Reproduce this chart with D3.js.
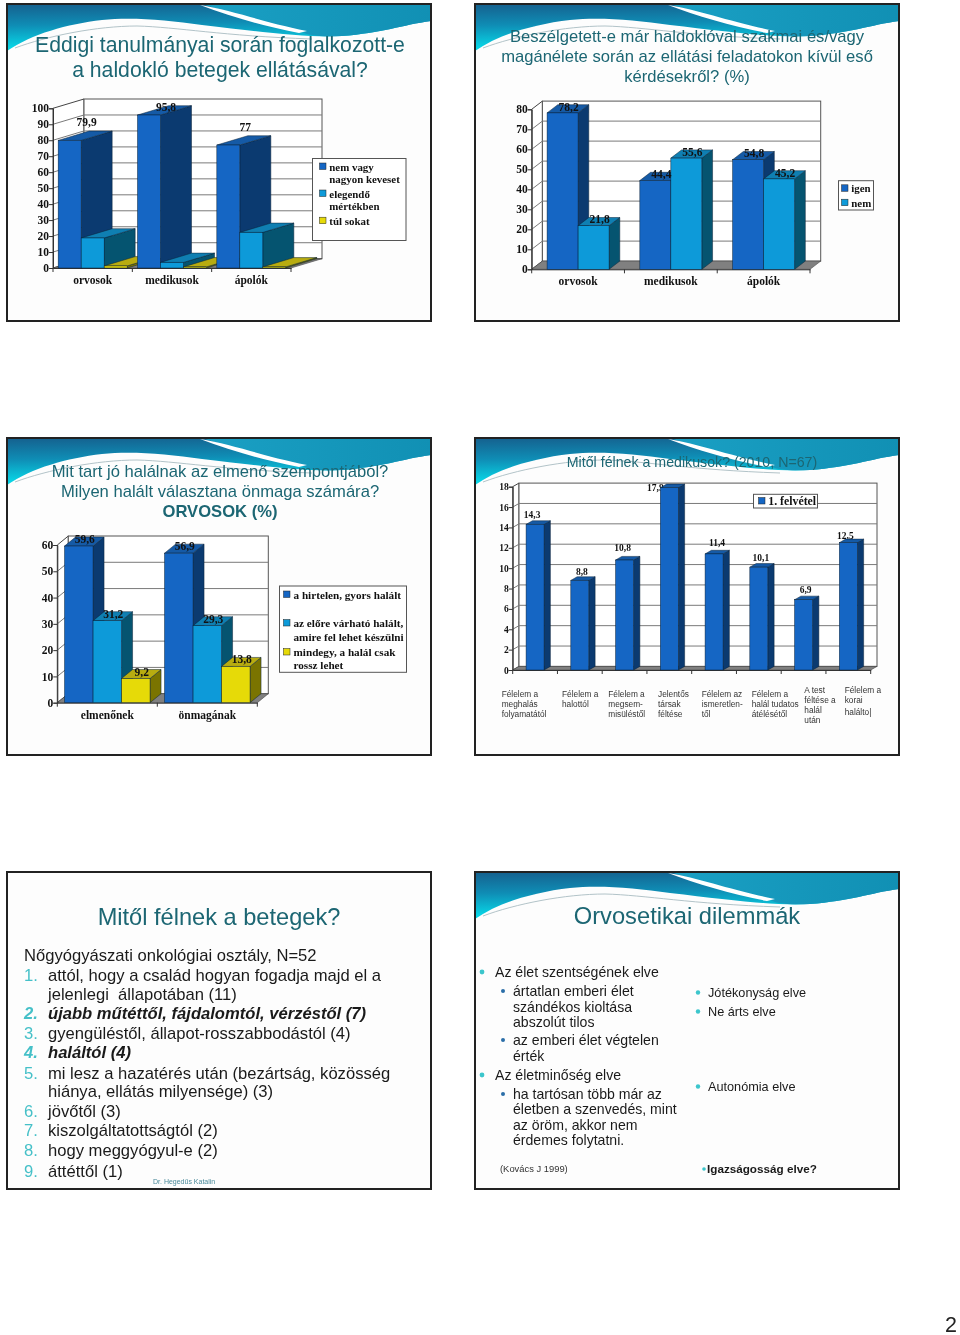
<!DOCTYPE html>
<html><head><meta charset="utf-8">
<script src="https://cdn.jsdelivr.net/npm/d3@7"></script>
<style>
html,body{margin:0;padding:0;background:#fff}
svg{display:block;filter:blur(0.35px)}
.serif{font-family:"Liberation Serif",serif;font-weight:700;fill:#111}
.sans{font-family:"Liberation Sans",Arial,sans-serif}
.title{fill:#1c6673;text-anchor:middle}
.body{fill:#1a1a1a}
.axis .domain{stroke:#333;stroke-width:1}
.axis line{stroke:#333;stroke-width:1}
.axis text{font-family:"Liberation Serif",serif;font-weight:700;fill:#111}
</style></head><body>
<script>
// ---------- data ----------
const cats1 = ["orvosok","medikusok","ápolók"];
const legend1 = [["nem vagy","nagyon keveset"],["elegendő","mértékben"],["túl sokat"]];
const nemVagy1 = [79.9,95.8,77];
const elegendo1 = [18.8,3.5,22.3];
const tulSokat1 = [1.3,0.7,0.7];
const labels1 = ["79,9","95,8","77"];

const cats2 = ["orvosok","medikusok","ápolók"];
const legend2 = [["igen"],["nem"]];
const igen2 = [78.2,44.4,54.8];
const nem2 = [21.8,55.6,45.2];

const cats3 = ["elmenőnek","önmagának"];
const legend3 = [["a hirtelen, gyors halált"],["az előre várható halált,","amire fel lehet készülni"],["mindegy, a halál csak","rossz lehet"]];
const hirtelen3 = [59.6,56.9];
const eloreVarhato3 = [31.2,29.3];
const mindegy3 = [9.2,13.8];

const cats4 = ["meghalás","halott","megsemmisülés","társak","ismeretlen","tudatos","test","korai"];
const catLines4 = [["Félelem a","meghalás","folyamatától"],["Félelem a","halottól"],["Félelem a","megsem-","misüléstől"],["Jelentős","társak","féltése"],["Félelem az","ismeretlen-","től"],["Félelem a","halál tudatos","átélésétől"],["A test","féltése a","halál","után"],["Félelem a","korai","halálto|"]];
const legend4 = [["1. felvétel"]];
const felvetel4 = [14.3,8.8,10.8,17.9,11.4,10.1,6.9,12.5];

const ticks1 = [0,10,20,30,40,50,60,70,80,90,100];
const ticks2 = [0,10,20,30,40,50,60,70,80];
const ticks3 = [0,10,20,30,40,50,60];
const ticks4 = [0,2,4,6,8,10,12,14,16,18];

const titles1 = ["Eddigi tanulmányai során foglalkozott-e","a haldokló betegek ellátásával?"];
const titles2 = ["Beszélgetett-e már haldoklóval szakmai és/vagy","magánélete során az ellátási feladatokon kívül eső","kérdésekről? (%)"];
const titles3 = ["Mit tart jó halálnak az elmenő szempontjából?","Milyen halált választana önmaga számára?","ORVOSOK (%)"];
const title4 = "Mitől félnek a medikusok? (2010, N=67)";
const title5 = "Mitől félnek a betegek?";
const title6 = "Orvosetikai dilemmák";

const intro5 = "Nőgyógyászati onkológiai osztály, N=52";
const list5 = [
 ["1.",["attól, hogy a család hogyan fogadja majd el a","jelenlegi  állapotában (11)"],false],
 ["2.",["újabb műtéttől, fájdalomtól, vérzéstől (7)"],true],
 ["3.",["gyengüléstől, állapot-rosszabbodástól (4)"],false],
 ["4.",["haláltól (4)"],true],
 ["5.",["mi lesz a hazatérés után (bezártság, közösség","hiánya, ellátás milyensége) (3)"],false],
 ["6.",["jövőtől (3)"],false],
 ["7.",["kiszolgáltatottságtól (2)"],false],
 ["8.",["hogy meggyógyul-e (2)"],false],
 ["9.",["áttéttől (1)"],false]];
const left6 = [
 [0,["Az élet szentségének elve"]],
 [1,["ártatlan emberi élet","szándékos kioltása","abszolút tilos"]],
 [1,["az emberi élet végtelen","érték"]],
 [0,["Az életminőség elve"]],
 [1,["ha tartósan több már az","életben a szenvedés, mint","az öröm, akkor nem","érdemes folytatni."]]];
const right6 = ["Jótékonyság elve","Ne árts elve","Autonómia elve"];

// ---------- page ----------
const svg = d3.select("body").append("svg").attr("width",960).attr("height",1335);
const defs = svg.append("defs");
const g1 = defs.append("linearGradient").attr("id","wave").attr("x1",0).attr("y1",0).attr("x2",0.12).attr("y2",1);
g1.append("stop").attr("offset",0).attr("stop-color","#15608e");
g1.append("stop").attr("offset",0.45).attr("stop-color","#0f8db5");
g1.append("stop").attr("offset",1).attr("stop-color","#06e2ee");
const g2 = defs.append("linearGradient").attr("id","waveR").attr("x1",0).attr("y1",0).attr("x2",1).attr("y2",0);
g2.append("stop").attr("offset",0).attr("stop-color","#1aa0c4");
g2.append("stop").attr("offset",1).attr("stop-color","#1190b4");

const frames = [[7,4,true],[475,4,true],[7,438,true],[475,438,true],[7,872,false],[475,872,true]];
frames.forEach(([fx,fy,wave],i)=>{
  const g = svg.append("g").attr("transform",`translate(${fx},${fy})`);
  g.append("rect").attr("width",424).attr("height",317).attr("fill","#fdfdfd");
  if(wave){
    g.append("path").attr("fill","url(#wave)")
      .attr("d","M0,0H424V17C395,21 375,29 335,32C300,34 255,28 195,21C160,16 125,13 95,16C60,20 25,30 0,47Z");
    g.append("path").attr("fill","url(#waveR)")
      .attr("d","M195,0H424V17C395,21 375,29 335,32C310,33 300,31 296,28C260,20 225,10 195,0Z");
    g.append("path").attr("fill","#fff")
      .attr("d","M193,1C225,6 255,18 300,27L292,29C255,22 222,12 193,1Z");
    g.append("path").attr("fill","none").attr("stroke","#a9bcc2").attr("stroke-width",0.9)
      .attr("d","M8,44C40,32 90,22 130,22C170,23 215,32 305,35");
  }
  g.append("rect").attr("width",424).attr("height",317).attr("fill","none").attr("stroke","#222").attr("stroke-width",2);
});

function title(lines,cx,ys,size,bold){
  lines.forEach((t,i)=>svg.append("text").attr("class","sans title").attr("x",cx).attr("y",ys[i])
    .attr("font-size",size).attr("font-weight",(bold&&bold[i])?700:400).text(t));
}
title(titles1,220,[52,77],21.2);
title(titles2,687,[42,62,82],16.6);
title(titles3,220,[477,497,517],16.6,[0,0,1]);
title([title4],692,[467],14.2);
title([title5],219,[925],23.6);
title([title6],687,[924],23.7);

const pal = [
 {front:"#1566c4",side:"#0b3a70",top:"#155aa6"},
 {front:"#0d9ad9",side:"#055470",top:"#0f7fb2"},
 {front:"#e6da08",side:"#7a7400",top:"#b8ac10"}];

function chart(o){
  const g = svg.append("g");
  const y = d3.scaleLinear().domain([0,o.yMax]).range([o.y0,o.yTop]);
  const x = d3.scaleBand().domain(o.cats).range([o.x0,o.x1]);
  const n = o.series.length, step = x.step();
  const sub = d3.scaleBand().domain(d3.range(n)).range([0,step]).paddingInner(0).paddingOuter((step/o.barW-n)/2);
  const {dx,dy} = o;
  const poly = pts => pts.map(p=>p.join(",")).join(" ");
  // walls and floor
  g.append("polygon").attr("points",poly([[o.x0,o.y0],[o.x0+dx,o.y0+dy],[o.x0+dx,o.yTop+dy],[o.x0,o.yTop]])).attr("fill","#fff").attr("stroke","#444");
  g.append("rect").attr("x",o.x0+dx).attr("y",o.yTop+dy).attr("width",o.x1-o.x0).attr("height",o.y0-o.yTop).attr("fill","#fff").attr("stroke","#555");
  g.append("polygon").attr("points",poly([[o.x0,o.y0],[o.x1,o.y0],[o.x1+dx,o.y0+dy],[o.x0+dx,o.y0+dy]])).attr("fill","#808080").attr("stroke","#444").attr("stroke-width",0.6);
  // gridlines
  g.selectAll("polyline.grid").data(o.ticks.slice(1,-1).concat([])).join("polyline").attr("class","grid")
    .attr("fill","none").attr("stroke","#7a7a7a").attr("stroke-width",1)
    .attr("points",t=>poly([[o.x0,y(t)],[o.x0+dx,y(t)+dy],[o.x1+dx,y(t)+dy]]));
  // axes
  const ay = g.append("g").attr("class","axis").attr("transform",`translate(${o.x0},0)`)
    .call(d3.axisLeft(y).tickValues(o.ticks).tickSize(4).tickPadding(o.tickPad||0).tickFormat(d3.format("d")));
  ay.selectAll("text").attr("font-size",o.tickSize);
  const ax = g.append("g").attr("class","axis").attr("transform",`translate(0,${o.y0})`)
    .call(d3.axisBottom(x).tickSize(0).tickPadding(o.catPad||8));
  ax.selectAll("text").attr("font-size",o.tickSize).style("display",o.hideCats?"none":null);
  ax.selectAll(".tick line").remove();
  g.selectAll("line.ct").data(d3.range(o.cats.length+1)).join("line").attr("class","ct")
    .attr("x1",i=>o.x0+i*step).attr("x2",i=>o.x0+i*step).attr("y1",o.y0).attr("y2",o.y0+4).attr("stroke","#333");
  // labels behind bars where the reference has them hidden
  const labelG = () => {
    o.series.forEach((vals,s)=>{
      if(o.labels && !o.labels[s]) return;
      vals.forEach((v,c)=>{
        const txt = o.labels ? o.labels[s][c] : String(v).replace(".",",");
        const nx = o.nudgeX? o.nudgeX[s][c]: o.ldx, ny = o.nudgeY? o.nudgeY[s][c]: o.ldy;
        g.append("text").attr("class","serif").attr("font-size",o.labelSize).attr("text-anchor","middle").attr("dy","0.35em")
          .attr("x",x(o.cats[c])+sub(s)+sub.bandwidth()/2+nx).attr("y",y(v)+ny).text(txt);
      });
    });
  };
  if(o.labelsBehind) labelG();
  // bars
  o.cats.forEach((cat,c)=>{
    o.series.forEach((vals,s)=>{
      const v = vals[c], bx = x(cat)+sub(s), bw = sub.bandwidth(), ty = y(v), p = pal[s];
      g.append("polygon").attr("points",poly([[bx+bw,ty],[bx+bw+dx,ty+dy],[bx+bw+dx,o.y0+dy],[bx+bw,o.y0]])).attr("fill",p.side).attr("stroke","#0a2238").attr("stroke-width",0.5);
      g.append("polygon").attr("points",poly([[bx,ty],[bx+dx,ty+dy],[bx+bw+dx,ty+dy],[bx+bw,ty]])).attr("fill",p.top).attr("stroke","#0a2238").attr("stroke-width",0.5);
      g.append("rect").attr("x",bx).attr("y",ty).attr("width",bw).attr("height",o.y0-ty).attr("fill",p.front).attr("stroke","#0a2238").attr("stroke-width",0.5);
    });
  });
  if(!o.labelsBehind) labelG();
}

function legend(o){
  const g = svg.append("g");
  g.append("rect").attr("x",o.x).attr("y",o.y).attr("width",o.w).attr("height",o.h).attr("fill","#fff").attr("stroke","#555");
  o.entries.forEach((e,i)=>{
    const col = pal[i];
    e.forEach((t,j)=>{
      const by = o.base[i][j];
      if(j===0) g.append("rect").attr("x",o.sx).attr("y",by-7.5).attr("width",6.5).attr("height",6.5).attr("fill",col.front).attr("stroke","#222").attr("stroke-width",0.5);
      g.append("text").attr("class","serif").attr("font-size",o.size).attr("x",o.tx).attr("y",by).text(t);
    });
  });
}

// chart 1
chart({cats:cats1,series:[nemVagy1,elegendo1,tulSokat1],labels:[labels1,null,null],
  x0:53,x1:291,y0:268,yTop:108.3,yMax:100,ticks:ticks1,dx:31,dy:-9.3,barW:23,tickSize:11.5,labelSize:11.5,catPad:8,
  nudgeX:[[17,17,17]],nudgeY:[[-18,-8,-18]]});
legend({x:312.5,y:158.5,w:93.5,h:82,sx:319.5,tx:329.3,size:10.9,entries:legend1,base:[[170.5,182.5],[197.5,209.7],[224.7]]});

// chart 2
chart({cats:cats2,series:[igen2,nem2],x0:531.7,x1:810,y0:269.3,yTop:109.3,yMax:80,ticks:ticks2,dx:10.7,dy:-8.2,barW:31,tickSize:11.5,labelSize:11.5,catPad:8,ldx:6,ldy:-6.3});
legend({x:838.5,y:180.7,w:35,h:29.3,sx:841.5,tx:851.3,size:10.9,entries:legend2,base:[[192.3],[206.7]]});

// chart 3
chart({cats:cats3,series:[hirtelen3,eloreVarhato3,mindegy3],x0:57.3,x1:257.3,y0:702.7,yTop:545,yMax:60,ticks:ticks3,dx:11,dy:-9,barW:28.5,tickSize:11.5,labelSize:11.5,catPad:8,ldx:6,ldy:-7});
legend({x:279.5,y:586,w:127,h:86.3,sx:283.5,tx:293.5,size:11.2,entries:legend3,base:[[598.5],[627,640.5],[656,669.3]]});

// chart 4
chart({cats:cats4,series:[felvetel4],x0:512.7,x1:870.7,y0:670,yTop:486.7,yMax:18,ticks:ticks4,dx:6.3,dy:-3.6,barW:18,tickSize:9.5,labelSize:9.5,hideCats:true,labelsBehind:true,
  nudgeX:[[-3,2,-2,-14,3,2,2,-3]],nudgeY:[[-9.3,-8.3,-12.3,0,-11,-9.7,-9.7,-7.3]]});
legend({x:753.5,y:494.3,w:64,h:13.7,sx:758.5,tx:768.3,size:11.8,entries:legend4,base:[[505]]});
const catX4 = [501.7,562,608.3,658,701.7,751.7,804.3,844.7];
const catY4 = [[696.7,706.7,716.7],[696.7,706.7],[696.7,706.7,716.7],[696.7,706.7,716.7],[696.7,706.7,716.7],[696.7,706.7,716.7],[693.3,703.3,713.3,723.3],[693.3,703.3,715]];
catLines4.forEach((ls,i)=>ls.forEach((t,j)=>svg.append("text").attr("class","sans").attr("font-size",8.3).attr("fill","#333")
  .attr("x",catX4[i]).attr("y",catY4[i][j]).text(t)));

// slide 5
svg.append("text").attr("class","sans body").attr("x",24).attr("y",961).attr("font-size",16.6).text(intro5);
const rows5 = [981,1019,1039,1058,1079,1117,1136,1156,1177];
const cont5 = {0:[1000],4:[1097]};
list5.forEach(([num,ls,b],i)=>{
  const st = b?{w:700,s:"italic"}:{w:400,s:"normal"};
  svg.append("text").attr("class","sans").attr("x",24).attr("y",rows5[i]).attr("font-size",16.6).attr("fill","#45c0c8").attr("font-weight",st.w).attr("font-style",st.s).text(num);
  ls.forEach((t,j)=>svg.append("text").attr("class","sans body").attr("x",48).attr("y",j?cont5[i][j-1]:rows5[i]).attr("font-size",16.6).attr("font-weight",st.w).attr("font-style",st.s).attr("xml:space","preserve").style("white-space","pre").text(t));
});
svg.append("text").attr("class","sans").attr("x",153).attr("y",1184).attr("font-size",7).attr("fill","#4a8a9a").text("Dr. Hegedűs Katalin");

// slide 6
const leftY6 = [[977],[996,1012,1027],[1045,1061],[1080],[1099,1114,1130,1145]];
left6.forEach(([lvl,ls],i)=>{
  svg.append("circle").attr("cx",lvl?503:482).attr("cy",leftY6[i][0]-5).attr("r",lvl?2:2.4).attr("fill",lvl?"#2b6ea8":"#3cc6cc");
  ls.forEach((t,j)=>svg.append("text").attr("class","sans body").attr("x",lvl?513:495).attr("y",leftY6[i][j]).attr("font-size",14.1).text(t));
});
const rightY6 = [997,1016,1091];
right6.forEach((t,i)=>{
  svg.append("circle").attr("cx",698).attr("cy",rightY6[i]-4.5).attr("r",2.2).attr("fill","#3cc6cc");
  svg.append("text").attr("class","sans body").attr("x",708).attr("y",rightY6[i]).attr("font-size",12.7).text(t);
});
svg.append("text").attr("class","sans").attr("x",500).attr("y",1172).attr("font-size",9.4).attr("fill","#333").text("(Kovács J 1999)");
svg.append("circle").attr("cx",704).attr("cy",1169).attr("r",1.8).attr("fill","#3cc6cc");
svg.append("text").attr("class","sans body").attr("x",707).attr("y",1173).attr("font-size",11.7).attr("font-weight",700).text("Igazságosság elve?");

// page number
svg.append("text").attr("class","sans").attr("x",951).attr("y",1331.5).attr("text-anchor","middle").attr("font-size",21.5).attr("fill","#222").text("2");
</script></body></html>
